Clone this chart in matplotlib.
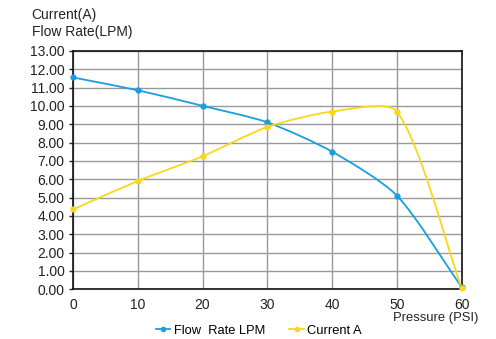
import matplotlib

matplotlib.use("Agg")
import matplotlib.pyplot as plt  # noqa: E402
import numpy as np  # noqa: E402
from matplotlib.path import Path  # noqa: E402
from matplotlib.patches import PathPatch  # noqa: E402
from matplotlib.lines import Line2D  # noqa: E402

plt.rcParams["font.family"] = ["Liberation Sans", "DejaVu Sans"]

pressure = [0, 10, 20, 30, 40, 50, 60]
flow_lpm = [11.55, 10.85, 10.0, 9.1, 7.5, 5.1, 0.1]
current_a = [4.35, 5.9, 7.25, 8.85, 9.69, 9.69, 0.05]
y_ticks = [i * 1.0 for i in range(14)]

BLUE = "#1a9ee0"
YELLOW = "#f8d81a"
TEXT = "#222222"


def _smooth_path(xs, ys, sx, sy, smooth=0.25):
    # bezier "smoothed line": control points worked out in screen proportions,
    # scaled by the neighbouring segment lengths
    pts = np.column_stack([np.asarray(xs, float) * sx, np.asarray(ys, float) * sy])
    n = len(pts)
    out_cp = [None] * n
    in_cp = [None] * n
    for i in range(n):
        p = pts[i]
        prev = pts[i - 1] if i > 0 else p
        nxt = pts[i + 1] if i < n - 1 else p
        d0 = np.hypot(*(p - prev))
        d1 = np.hypot(*(nxt - p))
        v = nxt - prev
        tot = d0 + d1 if d0 + d1 > 0 else 1.0
        in_cp[i] = p - v * smooth * d0 / tot
        out_cp[i] = p + v * smooth * d1 / tot
    verts = [pts[0]]
    codes = [Path.MOVETO]
    for i in range(n - 1):
        verts += [out_cp[i], in_cp[i + 1], pts[i + 1]]
        codes += [Path.CURVE4] * 3
    verts = np.array(verts) / np.array([sx, sy])
    return Path(verts, codes)


fig = plt.figure(figsize=(4.96, 3.39), dpi=100)
ax = fig.add_axes([0.147, 0.147, 0.784, 0.703])
ax.set_xlim(0, 60)
ax.set_ylim(0, 13)

bbox = ax.get_window_extent()
sx = bbox.width / 60
sy = bbox.height / 13

for ys, color in ((flow_lpm, BLUE), (current_a, YELLOW)):
    ax.add_patch(PathPatch(_smooth_path(pressure, ys, sx, sy), facecolor="none",
                           edgecolor=color, lw=1.3, zorder=3))
    ax.plot(pressure, ys, ls="none", marker="o", ms=3.5, color=color, zorder=4, clip_on=False)

ax.set_xticks(pressure)
ax.set_yticks(y_ticks)
ax.set_yticklabels([f"{v:.2f}" for v in y_ticks])
ax.grid(color="#999999", lw=1.0)
ax.set_axisbelow(True)
for s in ax.spines.values():
    s.set_color("#111111")
    s.set_linewidth(1.2)
ax.tick_params(axis="y", labelsize=10, colors=TEXT, length=3, width=1.0, pad=3)
ax.tick_params(axis="x", labelsize=10, colors=TEXT, length=0, pad=6)

fig.text(0.064, 0.957, "Current(A)", fontsize=10, va="center", color=TEXT)
fig.text(0.064, 0.905, "Flow Rate(LPM)", fontsize=10, va="center", color=TEXT)
fig.text(0.964, 0.062, "Pressure (PSI)", fontsize=9.4, ha="right", va="center", color=TEXT)

handles = [
    Line2D([], [], color=BLUE, marker="o", ms=3, lw=1.3),
    Line2D([], [], color=YELLOW, marker="o", ms=3, lw=1.3),
]
fig.legend(handles, ["Flow  Rate LPM", "Current A"], loc="center", bbox_to_anchor=(0.522, 0.024),
           ncol=2, frameon=False, fontsize=9.3, handlelength=1.1, handletextpad=0.25,
           columnspacing=1.9, borderpad=0, borderaxespad=0)

fig.savefig("out.png", dpi=100)
